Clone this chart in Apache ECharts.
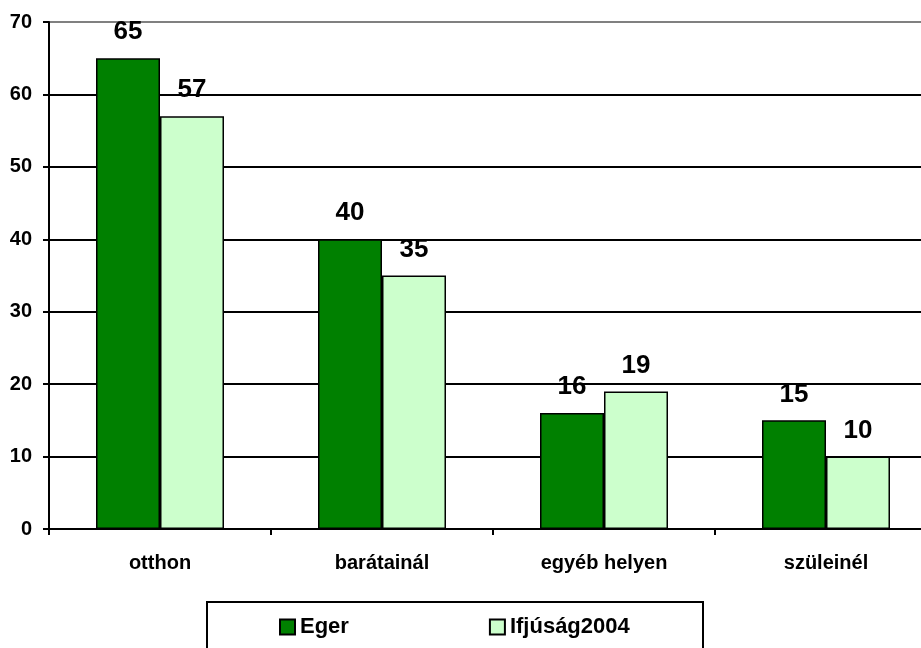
<!DOCTYPE html>
<html>
<head>
<meta charset="utf-8">
<script src="https://cdn.jsdelivr.net/npm/echarts@6/dist/echarts.min.js"></script>
<style>
  html, body { margin: 0; padding: 0; background: #fff; }
  #chart { width: 921px; height: 648px; }
</style>
</head>
<body>
<div id="chart"></div>
<script>
// Where young people spend their evenings (%)
const categories = ['otthon', 'barátainál', 'egyéb helyen', 'szüleinél'];
const egerValues = [65, 40, 16, 15];
const ifjusagValues = [57, 35, 19, 10];
const seriesNames = ['Eger', 'Ifjúság2004'];
const yTicks = { min: 0, max: 70, interval: 10 };

const FONT = '"Liberation Sans", Arial, sans-serif';

const chart = echarts.init(document.getElementById('chart'), null, { renderer: 'canvas' });

const labelStyle = {
  show: true,
  position: 'top',
  distance: 13,
  color: '#000',
  fontFamily: FONT,
  fontWeight: 'bold',
  fontSize: 26
};

chart.setOption({
  animation: false,
  backgroundColor: '#fff',
  // plot area runs past the right edge of the canvas
  grid: { left: 49, top: 22, right: -16, bottom: 119, containLabel: false, outerBoundsMode: 'none' },
  legend: {
    left: 279,
    top: 616,
    padding: 0,
    itemWidth: 15,
    itemHeight: 15,
    itemGap: 140,
    icon: 'rect',
    textStyle: { fontFamily: FONT, fontWeight: 'bold', fontSize: 22, color: '#000' },
    data: seriesNames
  },
  graphic: [{
    type: 'rect',
    shape: { x: 207, y: 602, width: 496, height: 60 },
    style: { fill: 'none', stroke: '#000', lineWidth: 2 },
    z: 0
  }],
  xAxis: {
    type: 'category',
    data: categories,
    axisLine: { lineStyle: { color: '#000', width: 2 } },
    axisTick: { show: true, length: 6, lineStyle: { color: '#000', width: 2 } },
    axisLabel: { margin: 24, color: '#000', fontFamily: FONT, fontWeight: 'bold', fontSize: 20 },
    splitLine: { show: false }
  },
  yAxis: {
    type: 'value',
    min: yTicks.min,
    max: yTicks.max,
    interval: yTicks.interval,
    axisLine: { show: true, lineStyle: { color: '#000', width: 2 } },
    axisTick: { show: true, length: 6, lineStyle: { color: '#000', width: 2 } },
    axisLabel: { margin: 17, color: '#000', fontFamily: FONT, fontWeight: 'bold', fontSize: 20 },
    splitLine: {
      show: true,
      lineStyle: {
        color: ['#000', '#000', '#000', '#000', '#000', '#000', '#000', '#808080'],
        width: 2
      }
    }
  },
  series: [
    {
      name: seriesNames[0],
      type: 'bar',
      data: egerValues,
      barWidth: 64,
      barGap: '0%',
      itemStyle: { color: '#008000', borderColor: '#000', borderWidth: 1.5 },
      label: labelStyle
    },
    {
      name: seriesNames[1],
      type: 'bar',
      data: ifjusagValues,
      barWidth: 64,
      itemStyle: { color: '#CCFFCC', borderColor: '#000', borderWidth: 1.5 },
      label: labelStyle
    }
  ]
});
</script>
</body>
</html>
